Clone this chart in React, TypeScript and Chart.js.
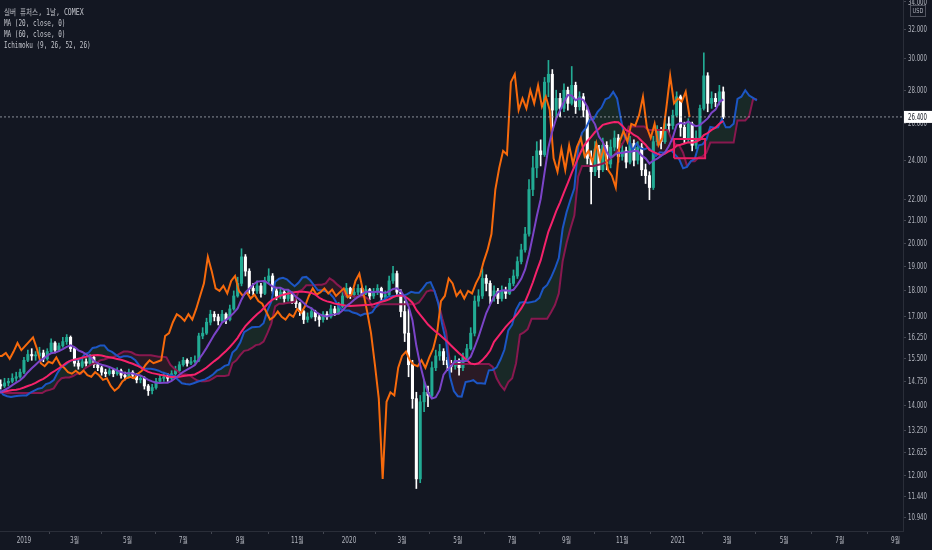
import { useEffect, useRef } from "react"
import { Chart, registerables } from "chart.js"

Chart.register(...registerables)

// one candle per 3 trading days; bar 0 = first session of 2019.
// the first 26 candles (from late Aug 2018) sit left of the view and only feed the indicators
const firstBar = -96
const barStep = 3

const closes = [
  14.75, 14.8, 14.6, 14.5, 14.2, 14.1, 14.2, 14.3, 14.25, 14.35,
  14.7, 14.55, 14.6, 14.65, 14.7, 14.5, 14.25, 14.3, 14.05, 14.0,
  14.25, 14.3, 14.2, 14.35, 14.5, 14.65,
  14.6, 14.7, 14.75, 14.85, 14.9, 15.05, 15.45, 15.65, 15.6, 15.6,
  15.7, 15.5, 15.75, 16.05, 15.8, 15.95, 16.1, 16.25, 15.85, 15.35,
  15.25, 15.4, 15.35, 15.55, 15.3, 15.2, 15.05, 15.0, 15.1, 15.0,
  15.1, 14.95, 14.9, 15.05, 14.95, 14.8, 14.85, 14.6, 14.45, 14.55,
  14.75, 14.85, 14.9, 14.85, 15.0, 15.1, 15.3, 15.45, 15.35, 15.4,
  15.45, 16.3, 16.4, 16.8, 17.1, 17.0, 16.85, 17.1, 16.9, 17.3,
  17.8, 18.3, 19.4, 18.8, 18.1, 18.0, 18.2, 17.9, 18.4, 18.6,
  18.0, 17.8, 17.95, 17.7, 17.85, 17.6, 17.5, 17.2, 16.9, 17.0,
  17.2, 17.0, 16.9, 17.1, 17.0, 17.3, 17.15, 17.4, 17.8, 18.1,
  17.85, 17.95, 18.1, 17.9, 18.05, 17.8, 17.95, 18.1, 17.75, 17.85,
  18.4, 18.7, 17.95, 17.2, 16.4, 15.3, 14.2, 11.9, 14.1, 14.4,
  14.3, 15.2, 15.6, 15.75, 15.45, 15.3, 15.25, 15.45, 15.2, 15.55,
  15.85, 16.4, 17.6, 17.8, 18.5, 18.3, 17.8, 18.0, 17.7, 18.0,
  17.9, 18.3, 18.6, 19.2, 19.7, 20.4, 22.5, 23.6, 24.5, 24.3,
  28.5, 29.0, 26.8, 27.5, 26.9, 28.0, 27.2, 28.3, 27.0, 27.6,
  26.8, 24.1, 23.4, 24.6, 23.5, 24.8, 23.8, 24.7, 25.2, 24.2,
  24.5, 23.9, 24.9, 24.0, 24.7, 23.5, 23.2, 22.6, 25.0, 25.6,
  25.0, 26.0, 25.9, 26.5, 27.6, 25.8, 25.2, 26.0, 24.8, 25.2,
  26.9, 28.9, 27.2, 27.5, 27.3, 27.9, 26.4,
]

const highs = [
  14.9, 14.95, 14.85, 14.7, 14.55, 14.3, 14.3, 14.4, 14.4, 14.45,
  14.85, 14.8, 14.7, 14.75, 14.85, 14.75, 14.55, 14.45, 14.35, 14.15,
  14.35, 14.45, 14.4, 14.45, 14.6, 14.75,
  14.8, 14.85, 14.85, 15.0, 15.05, 15.15, 15.55, 15.8, 15.85, 15.75,
  15.9, 15.8, 15.85, 16.2, 16.1, 16.05, 16.25, 16.35, 16.3, 15.9,
  15.45, 15.55, 15.5, 15.65, 15.6, 15.4, 15.25, 15.15, 15.2, 15.15,
  15.2, 15.15, 15.05, 15.15, 15.1, 15.0, 14.95, 14.9, 14.65, 14.65,
  14.85, 14.95, 15.05, 15.0, 15.1, 15.25, 15.4, 15.55, 15.5, 15.55,
  15.6, 16.4, 16.6, 16.95, 17.25, 17.2, 17.1, 17.25, 17.15, 17.45,
  18.0, 18.55, 19.75, 19.5, 18.9, 18.3, 18.4, 18.3, 18.55, 18.9,
  18.7, 18.1, 18.1, 18.05, 18.0, 17.95, 17.7, 17.55, 17.25, 17.15,
  17.35, 17.25, 17.1, 17.2, 17.2, 17.45, 17.4, 17.55, 17.95, 18.3,
  18.15, 18.1, 18.25, 18.15, 18.2, 18.1, 18.1, 18.25, 18.15, 18.0,
  18.6, 19.0, 18.8, 18.05, 17.6, 17.3, 15.45, 14.4, 14.3, 14.8,
  14.6, 15.4, 15.8, 16.0, 15.85, 15.55, 15.45, 15.6, 15.5, 15.7,
  16.0, 16.6, 17.8, 18.05, 18.9, 18.65, 18.4, 18.2, 18.1, 18.2,
  18.15, 18.5, 18.85, 19.4, 19.95, 20.7, 23.0, 24.2, 25.0, 25.1,
  28.8, 29.9, 29.3, 28.0, 27.8, 28.4, 28.2, 29.5, 28.5, 27.9,
  27.8, 27.0, 24.5, 25.0, 24.8, 25.2, 25.0, 25.1, 25.6, 25.4,
  24.9, 24.7, 25.3, 25.1, 25.0, 24.9, 23.8, 23.4, 25.3, 25.9,
  25.8, 26.3, 26.4, 26.8, 27.9, 27.7, 26.1, 26.3, 26.1, 25.6,
  27.1, 30.4, 29.1, 27.9, 27.8, 28.3, 28.2,
]

const lows = [
  14.6, 14.65, 14.5, 14.4, 14.1, 13.95, 14.05, 14.15, 14.15, 14.2,
  14.3, 14.45, 14.45, 14.5, 14.55, 14.4, 14.15, 14.15, 13.95, 13.9,
  13.95, 14.15, 14.1, 14.15, 14.3, 14.45,
  14.5, 14.55, 14.6, 14.7, 14.75, 14.85, 15.0, 15.4, 15.45, 15.45,
  15.55, 15.4, 15.45, 15.7, 15.7, 15.75, 15.9, 16.0, 15.75, 15.25,
  15.15, 15.2, 15.25, 15.3, 15.2, 15.1, 14.95, 14.9, 14.95, 14.9,
  14.95, 14.85, 14.8, 14.85, 14.85, 14.7, 14.7, 14.5, 14.3, 14.35,
  14.5, 14.7, 14.75, 14.75, 14.8, 14.95, 15.05, 15.25, 15.25, 15.3,
  15.35, 15.4, 16.2, 16.35, 16.7, 16.85, 16.7, 16.8, 16.75, 16.85,
  17.25, 17.75, 18.2, 18.6, 17.9, 17.85, 17.9, 17.75, 17.85, 18.3,
  17.9, 17.65, 17.7, 17.55, 17.6, 17.5, 17.35, 17.05, 16.75, 16.8,
  16.95, 16.85, 16.65, 16.8, 16.9, 16.95, 17.05, 17.1, 17.35, 17.75,
  17.7, 17.75, 17.85, 17.8, 17.85, 17.65, 17.7, 17.85, 17.6, 17.65,
  17.8, 18.3, 17.8, 17.0, 16.1, 14.9, 13.9, 11.65, 11.8, 13.8,
  13.95, 14.2, 15.1, 15.45, 15.3, 15.1, 15.05, 15.15, 14.95, 15.1,
  15.45, 15.8, 16.3, 17.4, 17.7, 18.0, 17.5, 17.6, 17.5, 17.6,
  17.7, 17.85, 18.2, 18.5, 19.1, 19.6, 20.3, 22.2, 23.1, 23.7,
  24.2, 27.6, 25.6, 26.3, 26.4, 26.7, 26.8, 27.1, 26.6, 26.8,
  26.4, 23.8, 21.8, 23.2, 23.1, 23.4, 23.5, 23.6, 24.5, 23.9,
  24.0, 23.6, 23.8, 23.7, 23.8, 23.2, 22.8, 22.0, 22.5, 24.8,
  24.6, 24.9, 25.5, 25.7, 26.4, 25.3, 24.9, 25.0, 24.5, 24.6,
  25.1, 26.8, 26.7, 26.9, 27.0, 27.1, 26.3,
]

const xTickBars = [0, 39, 80, 123, 167, 211, 251, 292, 335, 377, 419, 462, 505, 543, 587, 630, 673]
const xTickLabels = ["2019", "3월", "5월", "7월", "9월", "11월", "2020", "3월", "5월", "7월", "9월", "11월", "2021", "3월", "5월", "7월", "9월"]
const priceTicks = [10.94, 11.44, 12, 12.625, 13.25, 14, 14.75, 15.5, 16.25, 17, 18, 19, 20, 21, 22, 24, 26, 28, 30, 32, 34]

// the pink box drawn on the chart (bars, prices)
const boxBars = [502, 526]
const boxPrices = [24.1, 25.15]

const titleLines = ["실버 퓨처스, 1날, COMEX", "MA (20, close, 0)", "MA (60, close, 0)", "Ichimoku (9, 26, 52, 26)"]

const BG = "#131722"
const UP = "#22ab94"
const DOWN = "#ffffff"
const TEXT = "#b2b5be"
const LABEL_FONT = "8px 'DejaVu Sans', 'Noto Sans CJK KR', sans-serif"

const barOf = (j: number) => firstBar + j * barStep
const opens = closes.map((c, j) => (j === 0 ? c : closes[j - 1]))
const candleColors = closes.map((c, j) => (c >= opens[j] ? UP : DOWN))

// periods in candles (3 sessions each): 20 -> 7, 60 -> 20, 9 -> 3, 26 -> 9, 52 -> 17
function sma(len: number) {
  const out: { x: number; y: number }[] = []
  for (let j = len - 1; j < closes.length; j++) {
    let s = 0
    for (let i = j - len + 1; i <= j; i++) s += closes[i]
    out.push({ x: barOf(j), y: s / len })
  }
  return out
}

function midRange(j: number, len: number) {
  const hs = highs.slice(j - len + 1, j + 1)
  const ls = lows.slice(j - len + 1, j + 1)
  return (Math.max(...hs) + Math.min(...ls)) / 2
}

const spanStart = 16
const spanA = closes.slice(spanStart).map((_, n) => {
  const j = n + spanStart
  return { x: barOf(j) + 26, y: (midRange(j, 3) + midRange(j, 9)) / 2 }
})
const spanB = closes.slice(spanStart).map((_, n) => {
  const j = n + spanStart
  return { x: barOf(j) + 26, y: midRange(j, 17) }
})
const lagging = closes.map((c, j) => ({ x: barOf(j) - 26, y: c }))

const X_MIN = -18.5
const X_MAX = 678.8

// condensed text, the screenshot's labels are narrow
function narrowText(ctx: CanvasRenderingContext2D, t: string, x: number, y: number, sx: number) {
  ctx.save()
  ctx.translate(x, y)
  ctx.scale(sx, 1)
  ctx.fillText(t, 0, 0)
  ctx.restore()
}

const overlay = {
  id: "overlay",
  afterDraw(chart: Chart) {
    const { ctx, chartArea, width } = chart
    const xScale = chart.scales.x
    const yScale = chart.scales.y
    ctx.save()
    ctx.textBaseline = "middle"

    // header
    ctx.fillStyle = "#c3c5cc"
    ctx.textAlign = "left"
    ctx.font = "8px 'DejaVu Sans Mono', 'Noto Sans CJK KR', monospace"
    titleLines.forEach((t, i) => narrowText(ctx, t, 4, 13 + i * 11, i === 0 ? 0.82 : 0.75))

    // axis labels
    ctx.fillStyle = TEXT
    ctx.font = LABEL_FONT
    priceTicks.forEach((v) => narrowText(ctx, v.toFixed(3), chartArea.right + 5, yScale.getPixelForValue(v) + 0.5, 0.68))
    ctx.textAlign = "center"
    xTickBars.forEach((b, i) => narrowText(ctx, xTickLabels[i], xScale.getPixelForValue(b), chartArea.bottom + 9.5, 0.72))

    // last price tag
    const last = closes.length - 1
    const py = yScale.getPixelForValue(closes[last])
    ctx.fillStyle = candleColors[last]
    ctx.fillRect(chartArea.right + 1, py - 6, width - chartArea.right - 1, 12)
    ctx.fillStyle = BG
    ctx.textAlign = "left"
    narrowText(ctx, closes[last].toFixed(3), chartArea.right + 5, py + 0.5, 0.68)

    // currency box
    ctx.strokeStyle = "#50535e"
    ctx.lineWidth = 1
    ctx.strokeRect(910.5, 5.5, 15, 11)
    ctx.fillStyle = TEXT
    ctx.textAlign = "center"
    ctx.font = "7px 'DejaVu Sans', sans-serif"
    narrowText(ctx, "USD", 918, 11.5, 0.72)

    ctx.restore()
  },
}

function lineSet(label: string, data: { x: number; y: number }[], color: string, extra = {}) {
  return {
    type: "line" as const,
    label,
    data,
    borderColor: color,
    borderWidth: 2,
    pointRadius: 0,
    tension: 0,
    fill: false,
    order: 1,
    ...extra,
  }
}

export default function App() {
  const chartRef = useRef<HTMLCanvasElement>(null)
  const chartInstance = useRef<Chart | null>(null)

  useEffect(() => {
    if (!chartRef.current) return
    if (chartInstance.current) chartInstance.current.destroy()

    const last = closes.length - 1

    chartInstance.current = new Chart(chartRef.current, {
      type: "bar",
      data: {
        datasets: [
          lineSet("last", [
            { x: X_MIN, y: closes[last] },
            { x: X_MAX, y: closes[last] },
          ], "rgba(178, 181, 190, 0.75)", { borderWidth: 1, borderDash: [2, 2], order: 0 }),
          lineSet("box", [
            { x: boxBars[0], y: boxPrices[0] },
            { x: boxBars[1], y: boxPrices[0] },
            { x: boxBars[1], y: boxPrices[1] },
            { x: boxBars[0], y: boxPrices[1] },
            { x: boxBars[0], y: boxPrices[0] },
          ], "#e91e63", { order: 0 }),
          lineSet("MA 20", sma(7), "#7b44c8"),
          lineSet("MA 60", sma(20), "#f5226b"),
          lineSet("Lagging", lagging, "#f76a0c"),
          lineSet("Lead A", spanA, "#1c56c4", {
            fill: { target: "+1", above: "rgba(76, 175, 80, 0.12)", below: "rgba(242, 54, 69, 0.1)" },
          }),
          lineSet("Lead B", spanB, "#88184f"),
          {
            type: "bar" as const,
            label: "wick",
            data: closes.map((_, j) => ({ x: barOf(j), y: [lows[j], highs[j]] })),
            backgroundColor: candleColors,
            barThickness: 1,
            grouped: false,
            order: 5,
          },
          {
            type: "bar" as const,
            label: "body",
            data: closes.map((c, j) => ({ x: barOf(j), y: [opens[j], c] })),
            backgroundColor: candleColors,
            barThickness: 2.4,
            minBarLength: 1,
            grouped: false,
            order: 4,
          },
        ],
      },
      options: {
        responsive: true,
        maintainAspectRatio: false,
        animation: false,
        events: [],
        layout: { padding: 0 },
        plugins: {
          legend: { display: false },
          tooltip: { enabled: false },
          filler: { drawTime: "beforeDatasetsDraw" },
        },
        scales: {
          x: {
            type: "linear",
            min: X_MIN,
            max: X_MAX,
            offset: false,
            afterBuildTicks: (s) => {
              s.ticks = xTickBars.map((v) => ({ value: v }))
            },
            afterFit: (s) => {
              s.height = 19
            },
            ticks: { display: false, autoSkip: false },
            grid: { drawOnChartArea: false, tickLength: 3, color: "#434651" },
            border: { color: "#2a2e39" },
          },
          y: {
            type: "logarithmic",
            position: "right",
            min: 10.61,
            max: 34.15,
            afterBuildTicks: (s) => {
              s.ticks = priceTicks.map((v) => ({ value: v }))
            },
            afterFit: (s) => {
              s.width = 29
            },
            ticks: { display: false, autoSkip: false },
            grid: { drawOnChartArea: false, tickLength: 3, color: "#434651" },
            border: { color: "#2a2e39" },
          },
        },
      },
      plugins: [overlay],
    })

    return () => {
      if (chartInstance.current) {
        chartInstance.current.destroy()
        chartInstance.current = null
      }
    }
  }, [])

  return (
    <div style={{ position: "fixed", left: 0, top: 0, width: 932, height: 550, background: BG }}>
      <canvas ref={chartRef} />
    </div>
  )
}
